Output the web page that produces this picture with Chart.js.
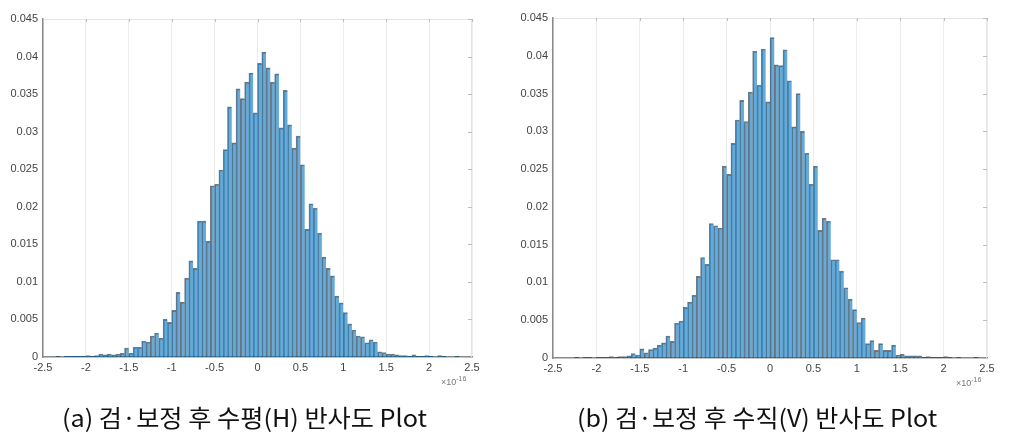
<!DOCTYPE html>
<html><head><meta charset="utf-8">
<script src="https://cdn.jsdelivr.net/npm/chart.js@4/dist/chart.umd.min.js"></script>
<style>
html,body{margin:0;padding:0;background:#fff;width:1013px;height:438px;overflow:hidden;position:relative}
canvas{position:absolute;top:0}
.cap{position:absolute;top:399px;font-family:"Noto Sans CJK KR";font-size:24px;color:#111;white-space:nowrap;transform-origin:0 0}
.exp{position:absolute;font-family:"Liberation Sans",Arial;font-size:9px;color:#777;white-space:nowrap}
.exp sup{font-size:7px}
</style></head><body>
<canvas id="c1" width="500" height="400" style="left:0"></canvas>
<canvas id="c2" width="503" height="400" style="left:510px"></canvas>
<div class="exp" style="left:441px;top:375px">&times;10<sup>-16</sup></div>
<div class="exp" style="left:956px;top:376px">&times;10<sup>-16</sup></div>
<div class="cap" id="cap1" style="left:62px">(a) 검·보정 후 수평(H) 반사도 Plot</div>
<div class="cap" id="cap2" style="left:577px">(b) 검·보정 후 수직(V) 반사도 Plot</div>
<script>
// histogram bins (x 10^-16)
const binStart = -2.5;
const binWidth = 0.05;
const binCount = 100;
const xTickValues = [-2.5,-2,-1.5,-1,-0.5,0,0.5,1,1.5,2,2.5];
const yTickValues = [0,0.005,0.01,0.015,0.02,0.025,0.03,0.035,0.04,0.045];

// (a) horizontal (H) – probability per bin
const seriesH = [
  0,0,0,0.0001,0,0.0001,0.0001,0.0001,0.0001,0.0001,0.0002,0.0001,0.0002,
  0.0004,0.0003,0.0004,0.0003,0.0004,0.0005,0.0012,0.0005,0.0013,0.0013,0.0021,0.0020,0.0028,0.0032,0.0025,0.0050,0.0046,0.0062,0.0086,0.0073,0.0105,0.0128,0.0118,0.0181,0.0181,0.0154,
  0.0228,0.0230,0.0249,0.0276,0.0333,0.0285,0.0357,0.0344,0.0366,0.0378,0.0325,0.0391,0.0406,0.0385,0.0366,
  0.0377,0.0305,0.0355,0.0309,0.0278,0.0294,0.0256,0.0170,0.0204,0.0198,0.0165,0.0133,0.0118,0.0108,0.0081,0.0072,0.0059,0.0044,0.0036,0.0028,
  0.0027,0.0019,0.0023,0.0020,0.0007,0.0006,0.0004,0.0004,0.0003,0.0002,0.0002,0.0001,0.0003,0.0001,0.0001,0.0002,0.0001,0,0.0002,0.0001,0,0,0.0001,0,0,0
];
// (b) vertical (V) – probability per bin
const seriesV = [
  0,0,0,0,0,0.0001,0,0.0001,0.0001,0,0.0001,0.0001,0.0001,0.0002,0.0001,0.0002,
  0.0002,0.0003,0.0006,0.0004,0.0012,0.0007,0.0011,0.0013,0.0017,0.0020,0.0029,0.0022,0.0046,0.0049,0.0067,0.0074,0.0083,0.0108,0.0133,0.0124,0.0178,0.0175,0.0172,
  0.0254,0.0243,0.0284,0.0315,0.0341,0.0313,0.0352,0.0406,0.0361,0.0409,0.0339,0.0424,0.0388,0.0387,0.0408,0.0367,0.0306,0.0350,0.0300,0.0271,0.0230,0.0254,
  0.0169,0.0185,0.0181,0.0130,0.0130,0.0115,0.0093,0.0078,0.0064,0.0047,0.0053,0.0019,0.0023,0.0010,0.0019,0.0010,0.0010,0.0017,0.0004,0.0005,0.0003,0.0003,0.0003,0.0003,0.0001,0.0002,0.0001,0.0001,0.0001,0.0002,0.0001,0,0.0001,0,0,0,0.0001,0,0
];

const binLabels = [];
for (let i = 0; i < binCount; i++) binLabels.push((binStart + (i + 0.5) * binWidth).toFixed(3));

const frame = {
  id:'frame',
  afterDraw(chart){
    const {ctx, chartArea:a} = chart;
    ctx.save();
    ctx.strokeStyle = '#e4e4e4';
    ctx.lineWidth = 1;
    ctx.beginPath();
    ctx.moveTo(a.left, a.top + 0.5); ctx.lineTo(a.right, a.top + 0.5);
    ctx.moveTo(a.right - 0.5, a.top); ctx.lineTo(a.right - 0.5, a.bottom);
    ctx.stroke();
    ctx.strokeStyle = '#bdbdbd';
    ctx.beginPath();
    const xs = chart.scales.xt, ys = chart.scales.y;
    xTickValues.forEach(v => { const p = Math.round(xs.getPixelForValue(v)) + 0.5; ctx.moveTo(p, a.top); ctx.lineTo(p, a.top + 3); });
    yTickValues.forEach(v => { const p = Math.round(ys.getPixelForValue(v)) + 0.5; ctx.moveTo(a.right, p); ctx.lineTo(a.right - 4, p); });
    ctx.stroke();
    ctx.restore();
  }
};

function makeChart(id, values, g){
  return new Chart(document.getElementById(id), {
    type:'bar',
    data:{labels:binLabels, datasets:[{
      data:values,
      backgroundColor:'rgba(0,114,189,0.6)',
      borderColor:'rgba(25,35,50,0.6)',
      borderWidth:{top:1,left:1,right:0,bottom:0},
      borderSkipped:false,
      barPercentage:1, categoryPercentage:1,
      xAxisID:'x', yAxisID:'y'
    }]},
    options:{
      responsive:false, animation:false, devicePixelRatio:1,
      layout:{padding:{left:0,right:g.padR,top:g.padT,bottom:0}},
      plugins:{legend:{display:false}, tooltip:{enabled:false}},
      scales:{
        x:{type:'category', display:false, offset:true},
        xt:{type:'linear', position:'bottom', min:-2.5, max:2.5, offset:false,
          afterBuildTicks(s){ s.ticks = xTickValues.map(v=>({value:v})); },
          ticks:{callback:v=>String(v), color:'#444', padding:4, font:{family:'Liberation Sans', size:11}, maxRotation:0, autoSkip:false},
          grid:{color:'#ececec', drawTicks:false, lineWidth:1, offset:false},
          border:{color:'#8a8a8a', width:1.5},
          afterFit(s){ s.height = g.xH; }
        },
        y:{type:'linear', min:0, max:0.045,
          afterBuildTicks(s){ s.ticks = yTickValues.map(v=>({value:v})); },
          ticks:{callback:v=>String(Math.round(v*1000)/1000), color:'#444', padding:5, font:{family:'Liberation Sans', size:11}},
          grid:{display:false, drawTicks:false},
          border:{color:'#8a8a8a', width:1.5},
          afterFit(s){ s.width = g.yW; }
        }
      }
    },
    plugins:[frame]
  });
}

makeChart('c1', seriesH, {padR:28, padT:19, xH:43, yW:43});
makeChart('c2', seriesV, {padR:26, padT:18, xH:42, yW:43});

// condense captions to the reference width
[['cap1',365],['cap2',360]].forEach(([id,w])=>{
  const el = document.getElementById(id);
  const s = w / el.getBoundingClientRect().width;
  el.style.transform = 'scaleX(' + s.toFixed(3) + ')';
});
</script>
</body></html>
